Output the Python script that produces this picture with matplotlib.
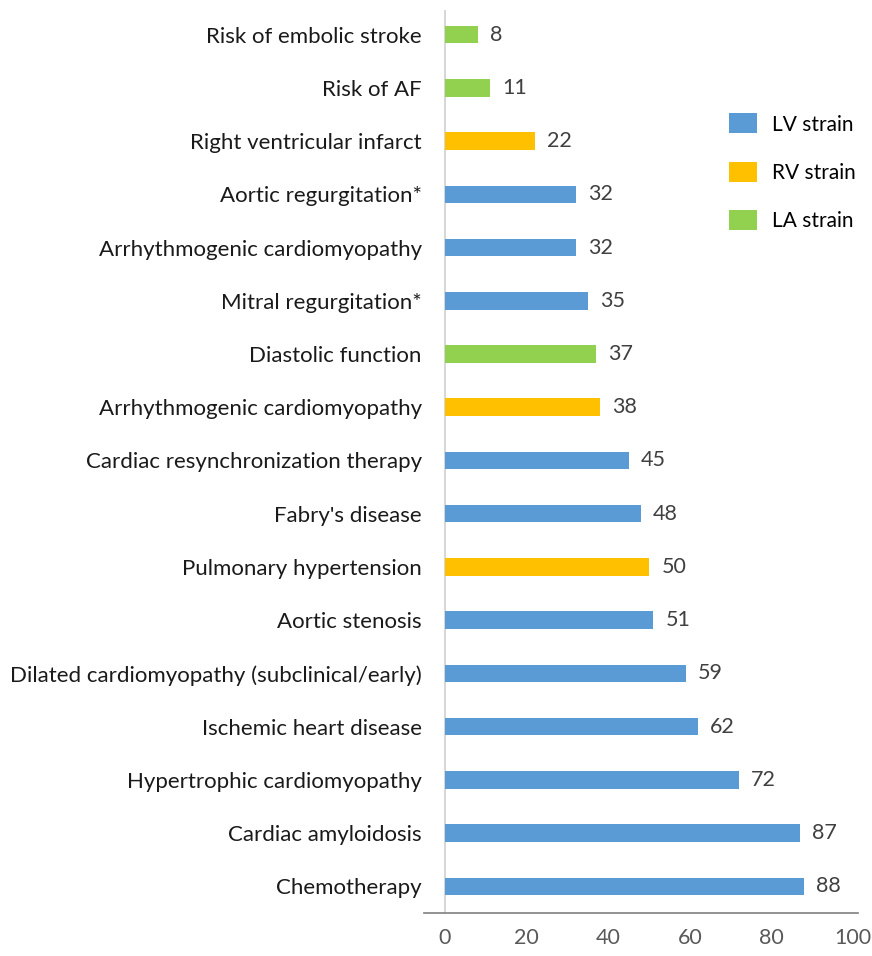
import matplotlib.pyplot as plt
from matplotlib.patches import Patch

# top to bottom, as shown in the chart
labels = [
    "Risk of embolic stroke",
    "Risk of AF",
    "Right ventricular infarct",
    "Aortic regurgitation*",
    "Arrhythmogenic cardiomyopathy",
    "Mitral regurgitation*",
    "Diastolic function",
    "Arrhythmogenic cardiomyopathy",
    "Cardiac resynchronization therapy",
    "Fabry's disease",
    "Pulmonary hypertension",
    "Aortic stenosis",
    "Dilated cardiomyopathy (subclinical/early)",
    "Ischemic heart disease",
    "Hypertrophic cardiomyopathy",
    "Cardiac amyloidosis",
    "Chemotherapy",
]
values = [8, 11, 22, 32, 32, 35, 37, 38, 45, 48, 50, 51, 59, 62, 72, 87, 88]
groups = ["LA", "LA", "RV", "LV", "LV", "LV", "LA", "RV", "LV", "LV",
          "RV", "LV", "LV", "LV", "LV", "LV", "LV"]

colors = {"LV": "#5B9BD5", "RV": "#FFC000", "LA": "#92D050"}
legend_names = {"LV": "LV strain", "RV": "RV strain", "LA": "LA strain"}

plt.rcParams["font.family"] = ["Lato", "DejaVu Sans"]

fig = plt.figure(figsize=(8.72, 9.56), dpi=100)
ax = fig.add_axes([0.486, 0.045, 0.498, 0.945])

ypos = list(range(len(labels)))
ax.barh(ypos, values, height=0.33, color=[colors[g] for g in groups])

for y, v in zip(ypos, values):
    ax.text(v + 3.0, y, str(v), va="center", ha="left", fontsize=15.5, color="#404040")

ax.set_yticks(ypos)
ax.set_yticklabels(labels, fontsize=16, color="#1a1a1a")
ax.set_ylim(len(labels) - 0.5, -0.47)
ax.set_xlim(-5.2, 101.2)
ax.set_xticks(range(0, 101, 20))
ax.tick_params(axis="x", labelsize=15.5, labelcolor="#595959", length=0, pad=11)
ax.tick_params(axis="y", length=0, pad=1.5)

for s in ["top", "right", "left"]:
    ax.spines[s].set_visible(False)
ax.spines["bottom"].set_color("#808080")
ax.spines["bottom"].set_linewidth(1.2)
ax.axvline(0, color="#d0d0d0", linewidth=1.2, zorder=0)

handles = [Patch(facecolor=colors[k], label=legend_names[k]) for k in ["LV", "RV", "LA"]]
fig.legend(handles=handles, loc="upper left", bbox_to_anchor=(0.827, 0.89),
           frameon=False, fontsize=15, handlelength=1.3, handleheight=1.1,
           labelspacing=1.3, handletextpad=0.75, borderaxespad=0)

fig.savefig("out.png", dpi=100)
